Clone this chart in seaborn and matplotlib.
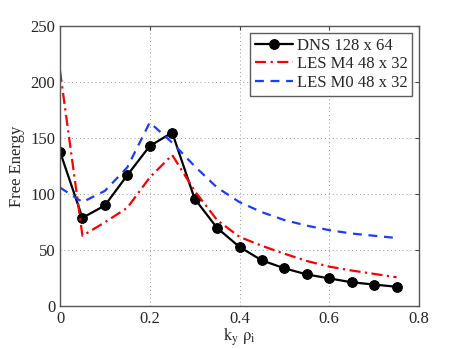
import numpy as np
import pandas as pd
import matplotlib
matplotlib.use("Agg")
import matplotlib.pyplot as plt
import seaborn as sns

# wavenumbers k_y rho_i
ky = [0.0, 0.05, 0.1, 0.15, 0.2, 0.25, 0.3, 0.35, 0.4, 0.45, 0.5, 0.55, 0.6, 0.65, 0.7, 0.75]

# free energy
dns = [138, 79, 90, 117, 143, 155, 96, 70, 53, 41, 34, 28.5, 25, 21.5, 19.5, 17.5]
les_m4 = [210, 63, 75, 88, 115, 135, 103, 77, 62, 54, 47, 40.5, 35.5, 32, 29, 26]
les_m0 = [106, 93, 103, 124, 164, 146, 125, 106, 93, 84, 77, 72, 68, 65, 63, 61]

labels = ["DNS 128 x 64", "LES M4 48 x 32", "LES M0 48 x 32"]

sns.set_style("white")
plt.rcParams["font.family"] = ["Liberation Serif", "DejaVu Serif"]
plt.rcParams["mathtext.fontset"] = "stix"

fig = plt.figure(figsize=(4.63, 3.49), dpi=100)
ax = fig.add_axes([0.1296, 0.122, 0.7754, 0.8035])

sns.lineplot(x=ky, y=dns, ax=ax, color="black", lw=1.6, marker="o",
             markersize=7, markeredgecolor="black", label=labels[0])
sns.lineplot(x=ky, y=les_m4, ax=ax, color="red", lw=1.6, linestyle=(0, (5, 2, 1, 2)),
             label=labels[1])
sns.lineplot(x=ky, y=les_m0, ax=ax, color="#1a3cff", lw=1.6, linestyle=(0, (4, 3)),
             label=labels[2])

ax.set_xlim(0, 0.8)
ax.set_ylim(0, 250)
ax.set_xticks([0, 0.2, 0.4, 0.6, 0.8])
ax.set_xticklabels(["0", "0.2", "0.4", "0.6", "0.8"])
ax.set_yticks([0, 50, 100, 150, 200, 250])
ax.grid(True, linestyle=(0, (1, 3)), color="#999999", lw=0.7)
ax.tick_params(direction="in", top=True, right=True, labelsize=12, length=3,
               color="#444444")
for s in ax.spines.values():
    s.set_color("#555555")
    s.set_linewidth(1.0)

ax.set_xlabel(r"$\mathrm{k_y\ \rho_i}$", fontsize=12, labelpad=-1)
ax.set_ylabel("Free Energy", fontsize=12, labelpad=4)

leg = ax.legend(loc="upper right", fontsize=12, frameon=True, fancybox=False,
                handlelength=2.3, handletextpad=0.2, borderpad=0.3,
                labelspacing=0.15, borderaxespad=0.4)
leg.get_frame().set_edgecolor("#333333")
leg.get_frame().set_linewidth(1.0)

fig.savefig("out.png", dpi=100)
